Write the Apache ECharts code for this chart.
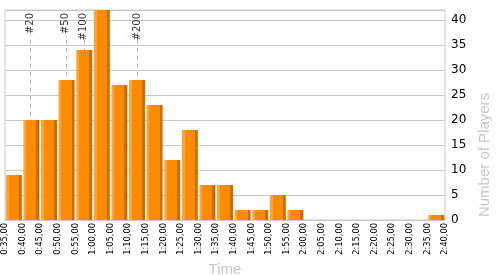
<!DOCTYPE html>
<html><head><meta charset="utf-8">
<script src="https://cdn.jsdelivr.net/npm/echarts@6/dist/echarts.min.js"></script>
<style>html,body{margin:0;padding:0;background:#fff}#c{width:500px;height:275px}</style>
</head><body><div id="c"></div>
<script>
// bins: start minute of each 5-minute bin (0:35 .. 2:35)
var binStarts = [35,40,45,50,55,60,65,70,75,80,85,90,95,100,105,110,115,120,125,130,135,140,145,150,155];
var players   = [9,20,20,28,34,42,27,28,23,12,18,7,7,2,2,5,2,0,0,0,0,0,0,0,1];
// tick labels (boundaries, minutes)
var tickMin = 35, tickMax = 160, tickStep = 5;
// rank markers
var markerNames = ['#20','#50','#100','#200'];
var markerTimes = [42.3, 52.3, 57.4, 72.6];
var markerLineTop = [37, 37, 36.4, 36.4];
var markerLabelY = 41.4;

function fmt(v){
  var h = Math.floor(v/60), m = v%60;
  return h + ':' + (m<10?'0':'') + m + ',00';
}
var chart = echarts.init(document.getElementById('c'));
var markData = markerTimes.map(function(t,i){
  return [{coord:[t,0]},{coord:[t,markerLineTop[i]]}];
});
var markPts = markerTimes.map(function(t,i){ return {value:[t,markerLabelY], name:markerNames[i]}; });
chart.setOption({
  animation:false,
  textStyle:{fontFamily:'DejaVu Sans'},
  grid:{left:5,right:55,top:10,bottom:55,show:true,borderColor:'#c8c8c8',borderWidth:1,
    containLabel:false, outerBoundsMode:'none'},
  xAxis:[{
    type:'category', data:binStarts, show:false, boundaryGap:true
  },{
    type:'value', min:tickMin, max:tickMax, interval:tickStep, position:'bottom',
    axisLine:{show:false}, axisTick:{show:false}, splitLine:{show:false},
    axisLabel:{rotate:90, formatter:fmt, fontSize:8.3, color:'#000', margin:3, fontFamily:'DejaVu Sans'},
    name:'Time', nameLocation:'middle', nameGap:35,
    nameTextStyle:{color:'#c8c8c8', fontSize:15, fontFamily:'Liberation Sans'}
  }],
  yAxis:{
    type:'value', position:'right', min:0, max:42, interval:5,
    axisLine:{show:false}, axisTick:{show:false},
    splitLine:{lineStyle:{color:'#c8c8c8',width:1}},
    axisLabel:{color:'#000', fontSize:12, margin:6, fontFamily:'DejaVu Sans',
      showMaxLabel:false},
    name:'Number of Players', nameLocation:'middle', nameGap:32, nameRotate:90,
    nameTextStyle:{color:'#c8c8c8', fontSize:15, fontFamily:'Liberation Sans', padding:[0,80,0,0]}
  },
  series:[{
    type:'scatter', xAxisIndex:1, data:markPts, symbolSize:0, z:1,
    label:{show:true, formatter:function(p){return p.name;}, rotate:90, position:'inside',
      align:'right', verticalAlign:'middle', color:'#000', fontSize:10, fontFamily:'DejaVu Sans'},
    markLine:{silent:true, z:1, symbol:'none', label:{show:false},
      lineStyle:{type:[4,4], color:'#bbbbbb', width:1}, data:markData}
  },{
    type:'bar', data:players, xAxisIndex:0, barCategoryGap:'9%', z:5,
    itemStyle:{color:{type:'linear',x:0,y:0,x2:1,y2:0,colorStops:[
      {offset:0,color:'#ffa63a'},{offset:0.18,color:'#ffa63a'},
      {offset:0.18,color:'#ff8c00'},{offset:0.81,color:'#ff8c00'},
      {offset:0.81,color:'#c86e00'},{offset:1,color:'#c86e00'}]}}
  }]
});
</script></body></html>
